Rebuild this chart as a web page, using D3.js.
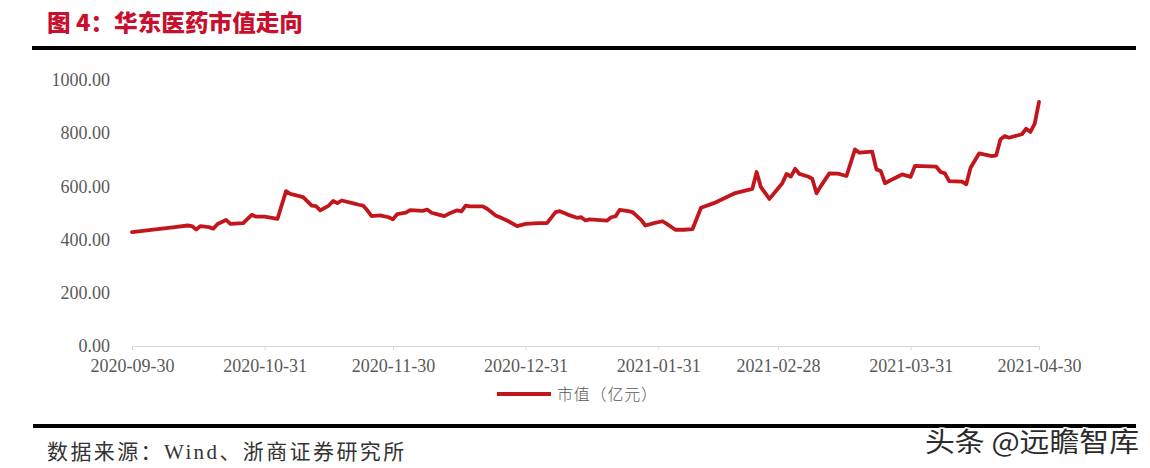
<!DOCTYPE html>
<html>
<head>
<meta charset="utf-8">
<script src="https://cdn.jsdelivr.net/npm/d3@7"></script>
<style>
  html, body { margin: 0; padding: 0; background: #ffffff; }
  svg { display: block; }
</style>
</head>
<body>
<svg id="chart" width="1150" height="468"></svg>
<script>
// ---- data ----
const title = "图 4：华东医药市值走向";
const seriesName = "市值（亿元）";
const sourceText = "数据来源：Wind、浙商证券研究所";
const watermark = "头条 @远瞻智库";

const dates = [
  "2020-09-30","2020-10-10","2020-10-13","2020-10-14","2020-10-15","2020-10-16","2020-10-18","2020-10-19",
  "2020-10-20","2020-10-21","2020-10-22","2020-10-23","2020-10-26","2020-10-27","2020-10-28","2020-10-29",
  "2020-10-31","2020-11-03","2020-11-05","2020-11-06","2020-11-09","2020-11-11","2020-11-12","2020-11-13",
  "2020-11-15","2020-11-16","2020-11-17","2020-11-18","2020-11-21","2020-11-22","2020-11-23","2020-11-24",
  "2020-11-25","2020-11-27","2020-11-29","2020-11-30","2020-12-01","2020-12-03","2020-12-04","2020-12-07",
  "2020-12-08","2020-12-09","2020-12-10","2020-12-12","2020-12-13","2020-12-15","2020-12-16","2020-12-17",
  "2020-12-18","2020-12-21","2020-12-22","2020-12-24","2020-12-25","2020-12-27","2020-12-29","2020-12-31",
  "2021-01-03","2021-01-05","2021-01-07","2021-01-08","2021-01-10","2021-01-12","2021-01-13","2021-01-14",
  "2021-01-15","2021-01-19","2021-01-20","2021-01-21","2021-01-22","2021-01-24","2021-01-25","2021-01-27",
  "2021-01-28","2021-01-30","2021-02-01","2021-02-02","2021-02-04","2021-02-06","2021-02-08","2021-02-10",
  "2021-02-13","2021-02-18","2021-02-22","2021-02-23","2021-02-24","2021-02-26","2021-03-01","2021-03-02",
  "2021-03-03","2021-03-04","2021-03-05","2021-03-07","2021-03-08","2021-03-09","2021-03-10","2021-03-12",
  "2021-03-14","2021-03-16","2021-03-18","2021-03-19","2021-03-22","2021-03-23","2021-03-24","2021-03-25",
  "2021-03-27","2021-03-29","2021-03-31","2021-04-01","2021-04-06","2021-04-07","2021-04-08","2021-04-09",
  "2021-04-12","2021-04-13","2021-04-14","2021-04-16","2021-04-19","2021-04-20","2021-04-21","2021-04-22",
  "2021-04-23","2021-04-26","2021-04-27","2021-04-28","2021-04-29","2021-04-30"
];
const marketCap = [
  428,447,453,451,438,451,447,441,
  459,466,474,459,462,478,493,486,
  486,478,582,572,560,528,526,510,
  528,545,537,547,535,531,528,510,
  488,491,484,476,496,501,511,508,
  513,501,497,488,497,510,506,528,
  525,525,516,491,484,469,451,459,
  462,462,503,507,493,482,484,472,
  476,471,484,487,512,507,503,474,
  453,462,469,459,437,437,439,520,
  537,575,591,654,597,553,612,647,
  637,666,647,637,629,574,601,649,
  648,639,739,727,731,664,658,612,
  629,645,636,677,674,654,649,620,
  618,608,670,724,714,717,777,789,
  783,796,817,805,836,918
];
const xTickLabels = ["2020-09-30","2020-10-31","2020-11-30","2020-12-31","2021-01-31","2021-02-28","2021-03-31","2021-04-30"];
const yTicks = [0, 200, 400, 600, 800, 1000];

// ---- drawing ----
const parse = d3.timeParse("%Y-%m-%d");
const svg = d3.select("#chart");
const red = "#c3161c";
const grey = "#595959";

const x = d3.scaleTime()
  .domain([parse(xTickLabels[0]), parse(xTickLabels[xTickLabels.length - 1])])
  .range([132, 1039]);
const y = d3.scaleLinear().domain([0, 1000]).range([346, 80]);

// title
svg.append("text")
  .attr("x", 47).attr("y", 31)
  .attr("font-family", "'Noto Sans CJK SC', sans-serif")
  .attr("font-weight", 900)
  .attr("font-size", 23)
  .attr("fill", "#c8102e")
  .attr("textLength", 256).attr("lengthAdjust", "spacingAndGlyphs")
  .text(title);

// top rule
svg.append("line").attr("x1", 32).attr("x2", 1136).attr("y1", 48).attr("y2", 48)
  .attr("stroke", "#000").attr("stroke-width", 4);

// y axis labels
const yAxis = d3.axisLeft(y).tickValues(yTicks).tickFormat(d3.format(".2f")).tickSize(0).tickPadding(0);
const gy = svg.append("g").attr("transform", "translate(110,0)").call(yAxis);
gy.select(".domain").remove();
gy.selectAll("text")
  .attr("font-family", "'Liberation Serif', 'Times New Roman', serif")
  .attr("font-size", 18).attr("fill", grey);

// x axis
const xAxis = d3.axisBottom(x)
  .tickValues(xTickLabels.map(parse))
  .tickFormat(d3.timeFormat("%Y-%m-%d"))
  .tickSizeInner(4).tickSizeOuter(0).tickPadding(9);
const gx = svg.append("g").attr("transform", "translate(0,346)").call(xAxis);
gx.select(".domain").attr("stroke", "#d9d9d9").attr("stroke-width", 1.2);
gx.selectAll(".tick line").attr("stroke", "#d9d9d9");
gx.selectAll("text")
  .attr("font-family", "'Liberation Serif', 'Times New Roman', serif")
  .attr("font-size", 18).attr("fill", grey);

// line
const data = dates.map((d, i) => ({ date: parse(d), value: marketCap[i] }));
const line = d3.line().x(d => x(d.date)).y(d => y(d.value));
svg.append("path").datum(data)
  .attr("d", line)
  .attr("fill", "none")
  .attr("stroke", red)
  .attr("stroke-width", 3.8)
  .attr("stroke-linejoin", "round")
  .attr("stroke-linecap", "round");

// legend
const leg = svg.append("g").attr("transform", "translate(497,394)");
leg.append("line").attr("x1", 0).attr("x2", 54).attr("y1", 0).attr("y2", 0)
  .attr("stroke", red).attr("stroke-width", 4);
leg.append("text").attr("x", 60).attr("y", 6)
  .attr("font-family", "'Noto Sans CJK SC', sans-serif")
  .attr("font-weight", 300)
  .attr("font-size", 16).attr("fill", grey)
  .attr("textLength", 100).attr("lengthAdjust", "spacing")
  .text(seriesName);

// bottom rule
svg.append("line").attr("x1", 33).attr("x2", 1136).attr("y1", 426).attr("y2", 426)
  .attr("stroke", "#000").attr("stroke-width", 4);

// source
svg.append("text").attr("x", 47).attr("y", 459)
  .attr("font-family", "'Liberation Serif', 'Noto Sans CJK SC', serif")
  .attr("font-size", 21).attr("fill", "#333")
  .attr("letter-spacing", 2.4)
  .text(sourceText);

// watermark
svg.append("text").attr("x", 925).attr("y", 452)
  .attr("font-family", "'Noto Sans CJK SC', sans-serif")
  .attr("font-size", 27).attr("fill", "#2b2b2b")
  .attr("stroke", "#ffffff").attr("stroke-width", 3).attr("paint-order", "stroke")
  .attr("textLength", 214).attr("lengthAdjust", "spacingAndGlyphs")
  .text(watermark);
</script>
</body>
</html>
